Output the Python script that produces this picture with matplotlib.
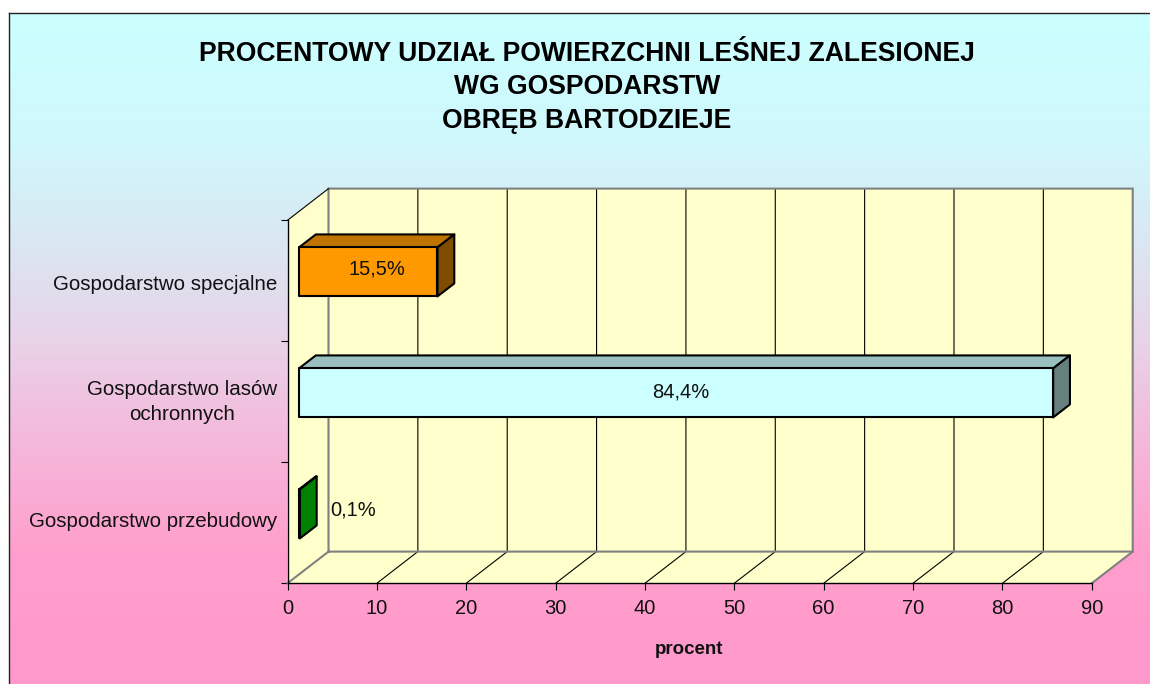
import numpy as np
import matplotlib
matplotlib.use('Agg')
import matplotlib.pyplot as plt
from matplotlib.colors import LinearSegmentedColormap
from matplotlib.patches import Polygon
from matplotlib.transforms import Affine2D

plt.rcParams['font.family'] = ['Liberation Sans', 'DejaVu Sans']

W, H = 1150, 684

# data
categories = ['Gospodarstwo przebudowy', 'Gospodarstwo lasów\nochronnych', 'Gospodarstwo specjalne']
values = [0.1, 84.4, 15.5]
value_labels = ['0,1%', '84,4%', '15,5%']
x_ticks = [0, 10, 20, 30, 40, 50, 60, 70, 80, 90]
title = 'PROCENTOWY UDZIAŁ POWIERZCHNI LEŚNEJ ZALESIONEJ\nWG GOSPODARSTW\nOBRĘB BARTODZIEJE'

# styles
front_cols = ['#008000', '#CCFFFF', '#FF9900']
top_cols = ['#008000', '#99BFBF', '#BF7300']
side_cols = ['#008000', '#667F7F', '#7F4C00']
label_shift = [(0, 4), (5, 1), (9, 3)]  # pixels from the bar centre
cat_shift = [3, 4.5, -2]  # pixels up


def px_axes(fig, x0, y0, x1, y1):
    return fig.add_axes([x0 / W, 1 - y1 / H, (x1 - x0) / W, (y1 - y0) / H])


fig = plt.figure(figsize=(W / 100, H / 100), dpi=100, facecolor='white')

# gradient background with border on left/top only
bg = px_axes(fig, 8.5, 13, W + 2, H + 2)
cmap = LinearSegmentedColormap.from_list('bg', [(0, '#CCFFFF'), (0.19, '#D0F8FC'), (0.365, '#DCE4F0'),
                                                (0.48, '#E8D4E8'), (0.64, '#F5B8DA'), (0.80, '#FF9FCC'),
                                                (1, '#FF99CC')])
bg.imshow(np.linspace(0, 1, 256).reshape(-1, 1), cmap=cmap, aspect='auto')
bg.set_xticks([])
bg.set_yticks([])
for s in ['right', 'bottom']:
    bg.spines[s].set_visible(False)
for s in ['left', 'top']:
    bg.spines[s].set_color('#222222')
    bg.spines[s].set_linewidth(1.0)

# main axes sits on the front plane of the 3D box
ax = px_axes(fig, 287.5, 220.3, 1091.7, 583.3)
ax.patch.set_visible(False)
ax.set_xlim(0, 90)
ax.set_ylim(0, 3)

px_x = 804.2 / 90
px_y = 363.0 / 3
DX = 41.0 / px_x
DY = 31.7 / px_y


def proj(x, y, d):
    return (x + d * DX, y + d * DY)


def poly(points, **kw):
    ax.add_patch(Polygon(points, closed=True, clip_on=False, **kw))


xmax = x_ticks[-1]
wall = '#FFFFCC'
poly([proj(0, 0, 1), proj(xmax, 0, 1), proj(xmax, 3, 1), proj(0, 3, 1)], fc=wall, ec='none', zorder=1)
poly([proj(0, 0, 0), proj(0, 0, 1), proj(0, 3, 1), proj(0, 3, 0)], fc=wall, ec='none', zorder=1)
poly([proj(0, 0, 0), proj(xmax, 0, 0), proj(xmax, 0, 1), proj(0, 0, 1)], fc=wall, ec='none', zorder=1)

# grid on back wall and floor
for t in x_ticks[1:-1]:
    xs, ys = zip(proj(t, 0, 0), proj(t, 0, 1), proj(t, 3, 1))
    ax.plot(xs, ys, color='black', lw=0.8, zorder=2, clip_on=False)

# grey box edges
xs, ys = zip(proj(0, 0, 0), proj(0, 0, 1), proj(xmax, 0, 1), proj(xmax, 3, 1), proj(0, 3, 1), proj(0, 0, 1))
ax.plot(xs, ys, color='#808080', lw=1.5, zorder=2, clip_on=False, solid_joinstyle='miter')
xs, ys = zip(proj(xmax, 0, 0), proj(xmax, 0, 1))
ax.plot(xs, ys, color='#808080', lw=1.5, zorder=2, clip_on=False)
xs, ys = zip(proj(0, 3, 0), proj(0, 3, 1))
ax.plot(xs, ys, color='black', lw=0.8, zorder=2, clip_on=False)

# bars
d0, d1 = 0.28, 0.69
bar_h = 0.405
for i, v in enumerate(values):
    yb = i + 0.5 - bar_h / 2
    yt = i + 0.5 + bar_h / 2
    edge = dict(ec='black', lw=1.5, joinstyle='round', zorder=4)
    poly([proj(0, yt, d0), proj(v, yt, d0), proj(v, yt, d1), proj(0, yt, d1)], fc=top_cols[i], **edge)
    poly([proj(v, yb, d0), proj(v, yb, d1), proj(v, yt, d1), proj(v, yt, d0)], fc=side_cols[i], **edge)
    poly([proj(0, yb, d0), proj(v, yb, d0), proj(v, yt, d0), proj(0, yt, d0)], fc=front_cols[i], **edge)

    cx, cy = proj(v / 2, i + 0.5, d0)
    if v < 1:
        ax.annotate(value_labels[i], (cx, cy), xytext=(31 / 1.389, label_shift[i][1] / 1.389),
                    textcoords='offset points', ha='left', va='center', fontsize=14.5, color='#111111', zorder=5)
    else:
        ax.annotate(value_labels[i], (cx, cy), xytext=(label_shift[i][0] / 1.389, label_shift[i][1] / 1.389),
                    textcoords='offset points', ha='center', va='center', fontsize=14.5, color='#111111', zorder=5)

# axes
for s in ['top', 'right']:
    ax.spines[s].set_visible(False)
for s in ['left', 'bottom']:
    ax.spines[s].set_zorder(3)
    ax.spines[s].set_linewidth(1.0)
ax.set_xticks(x_ticks)
ax.set_xticklabels([str(t) for t in x_ticks])
ax.set_yticks([0, 1, 2, 3])
ax.set_yticklabels([])
ax.set_yticks([0.5, 1.5, 2.5], categories, minor=True)
ax.tick_params(axis='x', length=5, width=0.8, labelsize=14.5, pad=6, labelcolor='#111111')
ax.tick_params(axis='y', which='major', length=5, width=0.8)
ax.tick_params(axis='y', which='minor', length=0, labelsize=14.8, pad=7.5, labelcolor='#111111')
for lab, dy in zip(ax.get_yticklabels(minor=True), cat_shift):
    lab.set_multialignment('center')
    lab.set_linespacing(1.35)
    lab.set_transform(lab.get_transform() + Affine2D().translate(0, dy))

fig.text(689 / W, 1 - 649 / H, 'procent', fontsize=13.5, fontweight='bold', ha='center', va='center', color='#111111')
fig.text(587 / W, 1 - 87.5 / H, title, fontsize=19.1, fontweight='bold', ha='center', va='center',
         linespacing=1.38, color='black')

fig.savefig('out.png', dpi=100)
